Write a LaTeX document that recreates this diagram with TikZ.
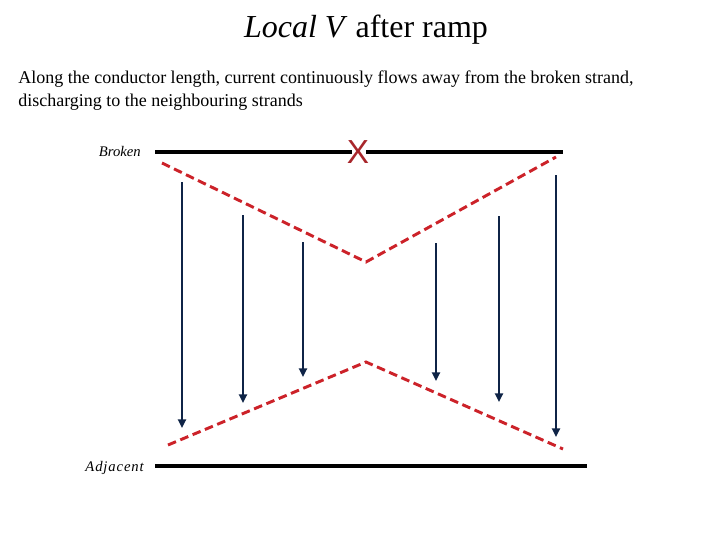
\documentclass[tikz,border=0pt]{standalone}
\usepackage{fontspec}
\setmainfont{Liberation Serif}
\newfontfamily\xfont{Liberation Sans}
\newfontfamily\spacedfont[LetterSpace=6]{Liberation Serif}
\usetikzlibrary{arrows.meta}
\definecolor{navy}{HTML}{0F2447}
\definecolor{dred}{HTML}{CC2229}
\definecolor{xred}{HTML}{A8262B}
\tikzset{
  strand/.style={line width=2.6pt, black},
  flow/.style={dred, line width=2.2pt, dash pattern=on 6.5pt off 3.5pt},
  arr/.style={navy, line width=1.6pt, -{Triangle[length=6.5pt,width=6pt]}},
  lbl/.style={font=\fontsize{11}{13}\selectfont\itshape, anchor=east, inner sep=0pt}
}
\begin{document}
\begin{tikzpicture}[x=0.75pt,y=-0.75pt]
\useasboundingbox (0,0) rectangle (720,540);
% title and text
\node[font=\fontsize{24}{28}\selectfont, inner sep=0pt] (title) at (366,30) {\textit{Local V} after ramp};
\node[font=\fontsize{13.5}{17}\selectfont, align=left, anchor=north west, inner sep=0pt] (desc) at (18,71)
  {Along the conductor length, current continuously flows away from the broken strand,\\discharging to the neighbouring strands};
% labels
\node[lbl] (broken) at (141,151) {Broken};
\node[lbl, font=\fontsize{11}{13}\selectfont\spacedfont\itshape] (adjacent) at (144,468) {Adjacent};
% strands
\coordinate (b1) at (155,152);
\coordinate (b2) at (352,152);
\coordinate (b3) at (366,152);
\coordinate (b4) at (563,152);
\draw[strand] (b1) -- (b2);
\draw[strand] (b3) -- (b4);
\node[font=\xfont\fontsize{25}{25}\selectfont, text=xred, inner sep=0pt] (xmark) at (358,152) {X};
\coordinate (a1) at (155,466);
\coordinate (a2) at (587,466);
\draw[strand] (a1) -- (a2);
% dashed profiles
\coordinate (t1) at (162,163);
\coordinate (t2) at (366,262);
\coordinate (t3) at (556,157);
\draw[flow] (t1) -- (t2) -- (t3);
\coordinate (u1) at (168,445);
\coordinate (u2) at (366,362);
\coordinate (u3) at (563,449);
\draw[flow] (u1) -- (u2) -- (u3);
% arrows
\foreach \n/\x/\ya/\yb in {1/182/182/428, 2/243/215/403, 3/303/242/377, 4/436/243/381, 5/499/216/402, 6/556/175/437}{
  \coordinate (s\n) at (\x,\ya);
  \coordinate (e\n) at (\x,\yb);
  \draw[arr] (s\n) -- (e\n);
}
\end{tikzpicture}
\end{document}
